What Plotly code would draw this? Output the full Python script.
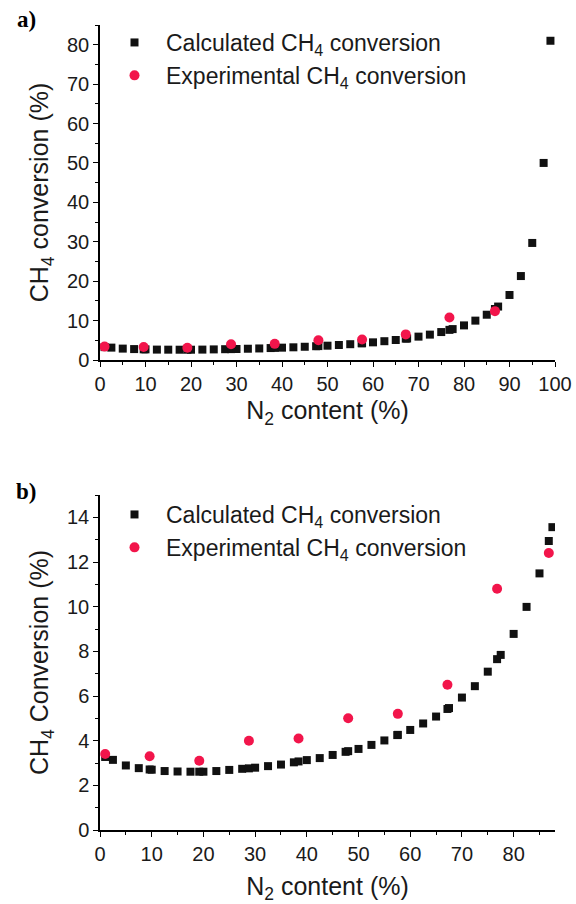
import plotly.graph_objects as go

# Calculated CH4 conversion vs N2 content
calc_x = [1.0, 2.5, 5.0, 7.5, 9.6, 10.0, 12.5, 15.0, 17.5, 19.2, 20.0, 22.5, 25.0,
          27.5, 28.8, 30.0, 32.5, 35.0, 37.5, 38.4, 40.0, 42.5, 45.0, 47.5, 48.0,
          50.0, 52.5, 55.0, 57.5, 57.6, 60.0, 62.5, 65.0, 67.2, 67.5, 70.0, 72.5,
          75.0, 76.8, 77.5, 80.0, 82.5, 85.0, 86.8, 87.5, 90.0, 92.5, 95.0, 97.5, 99.0]
calc_y = [3.27, 3.14, 2.89, 2.77, 2.71, 2.70, 2.64, 2.62, 2.61, 2.61, 2.61, 2.64, 2.69,
          2.74, 2.76, 2.79, 2.86, 2.93, 3.03, 3.07, 3.13, 3.22, 3.36, 3.50, 3.53,
          3.63, 3.81, 4.01, 4.25, 4.26, 4.48, 4.77, 5.08, 5.42, 5.46, 5.93, 6.44,
          7.09, 7.65, 7.84, 8.78, 9.99, 11.49, 12.94, 13.56, 16.5, 21.3, 29.7, 50.0, 81.0]

# Experimental CH4 conversion
exp_x = [1.0, 9.6, 19.2, 28.8, 38.4, 48.0, 57.6, 67.2, 76.8, 86.8]
exp_y = [3.4, 3.3, 3.1, 4.0, 4.1, 5.0, 5.2, 6.5, 10.8, 12.4]

calc_name = "Calculated CH<sub>4</sub> conversion"
exp_name = "Experimental CH<sub>4</sub> conversion"

FONT = "Liberation Sans, Arial, sans-serif"
TXT = "#1a1a1a"
RED = "#F2154B"

W, H = 576, 904
ML, MR, MT, MB = 100, 21, 25, 74
PW = W - ML - MR
PH = H - MT - MB


def px_x(px):
    return (px - ML) / PW


def px_y(py):
    return (H - MB - py) / PH


fig = go.Figure()

for xa, ya, leg in [("x", "y", "legend"), ("x2", "y2", "legend2")]:
    fig.add_trace(go.Scatter(
        x=calc_x, y=calc_y, mode="markers", name=calc_name,
        xaxis=xa, yaxis=ya, legend=leg,
        marker=dict(symbol="square", size=8, color="#111111", line=dict(width=0)),
    ))
    fig.add_trace(go.Scatter(
        x=exp_x, y=exp_y, mode="markers", name=exp_name,
        xaxis=xa, yaxis=ya, legend=leg,
        marker=dict(symbol="circle", size=10, color=RED, line=dict(width=0)),
    ))

axis_common = dict(
    showline=True, linecolor="black", linewidth=1.5,
    showgrid=False, zeroline=False, automargin=False,
    ticks="outside", ticklen=5, tickwidth=1.3, tickcolor="black",
    tickfont=dict(family=FONT, size=20, color=TXT),
)
title_font = dict(family=FONT, size=25, color=TXT)
minor_x = dict(dtick=5, ticks="outside", ticklen=3, tickcolor="black")

top_bottom = px_y(360)
bot_top = px_y(495)

legend_font = dict(family=FONT, size=23, color=TXT)

fig.update_layout(
    width=W, height=H,
    margin=dict(l=ML, r=MR, t=MT, b=MB, autoexpand=False),
    paper_bgcolor="white", plot_bgcolor="white",
    showlegend=True,
    xaxis=dict(axis_common, domain=[0, 1], anchor="y", range=[0, 100], dtick=10,
               minor=minor_x,
               title=dict(text="N<sub>2</sub> content (%)", font=title_font, standoff=8)),
    yaxis=dict(axis_common, domain=[top_bottom, 1], anchor="x", range=[0, 85], dtick=10,
               minor=dict(dtick=5, ticks="outside", ticklen=3, tickcolor="black"),
               title=dict(text="CH<sub>4</sub> conversion (%)", font=title_font, standoff=11)),
    xaxis2=dict(axis_common, domain=[0, 1], anchor="y2", range=[0, 88], dtick=10,
                minor=minor_x,
                title=dict(text="N<sub>2</sub> content (%)", font=title_font, standoff=15)),
    yaxis2=dict(axis_common, domain=[0, bot_top], anchor="x2", range=[0, 15], dtick=2,
                minor=dict(dtick=1, ticks="outside", ticklen=3, tickcolor="black"),
                title=dict(text="CH<sub>4</sub> Conversion (%)", font=title_font, standoff=11)),
    legend=dict(x=px_x(103), y=px_y(21), xanchor="left", yanchor="top",
                bgcolor="rgba(0,0,0,0)", itemwidth=53, font=legend_font),
    legend2=dict(x=px_x(103), y=px_y(493), xanchor="left", yanchor="top",
                 bgcolor="rgba(0,0,0,0)", itemwidth=53, font=legend_font),
)

# Panel labels
for label, py in [("a)", 19), ("b)", 491)]:
    fig.add_annotation(
        text=f"<b>{label}</b>", xref="paper", yref="paper",
        x=px_x(26), y=px_y(py), xanchor="center", yanchor="middle",
        showarrow=False, font=dict(family="Liberation Serif, Times New Roman, serif",
                                   size=23, color="black"),
    )

fig.write_html("out.html")
